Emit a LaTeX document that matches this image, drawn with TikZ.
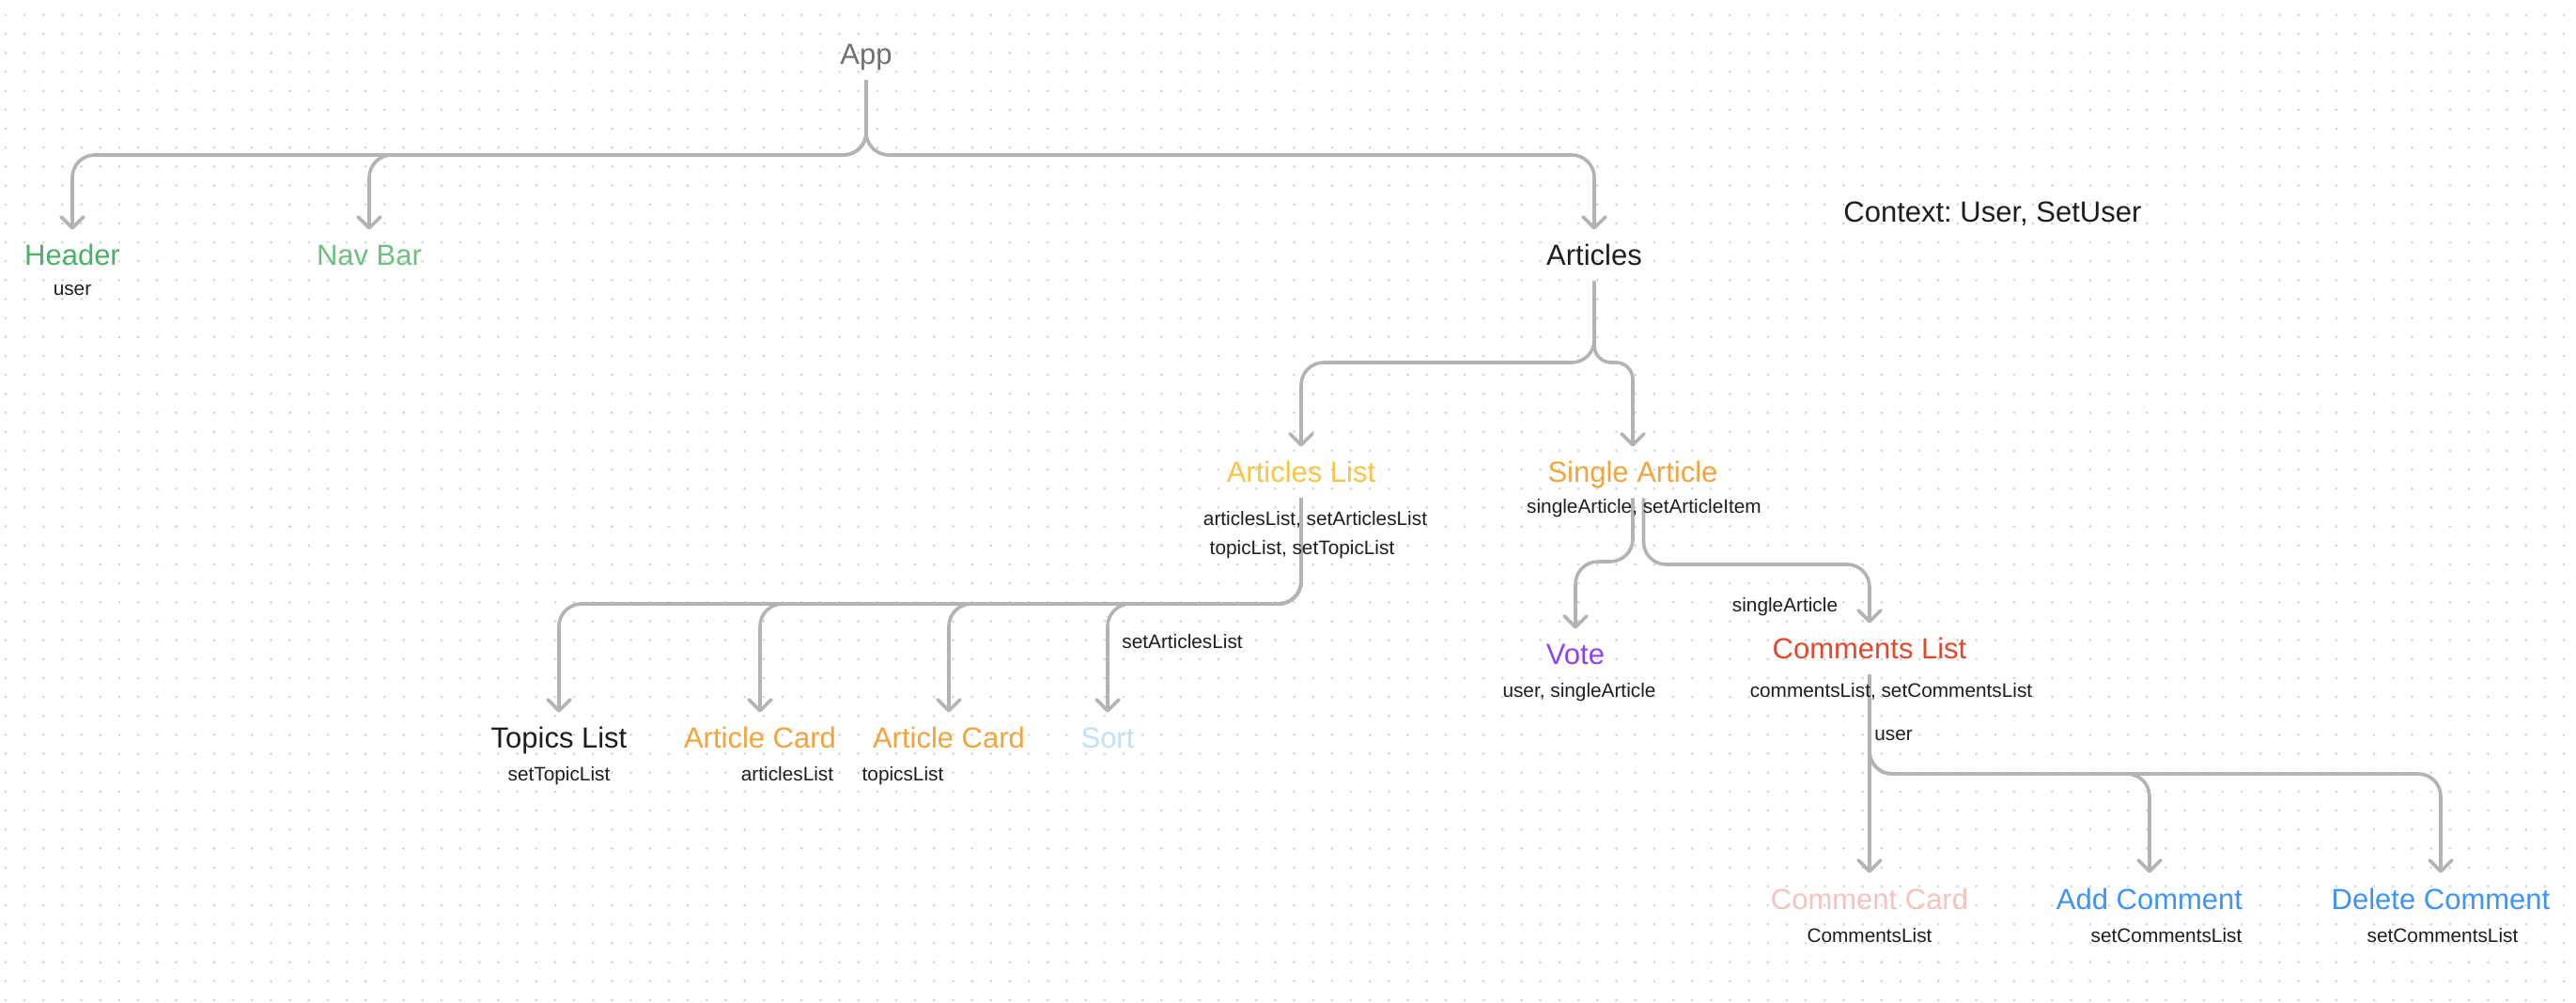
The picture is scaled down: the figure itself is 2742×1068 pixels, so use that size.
\documentclass[tikz,border=0pt]{standalone}
\usepackage{fontspec}
\setmainfont{Liberation Sans}
\usetikzlibrary{arrows.meta}
\frenchspacing
\definecolor{linegrey}{HTML}{B3B3B3}
\definecolor{dotgrey}{HTML}{CFCFCF}
\definecolor{appgrey}{HTML}{707070}
\definecolor{inkblack}{HTML}{1E1E1E}
\definecolor{hdrgreen}{HTML}{4DAF68}
\definecolor{navgreen}{HTML}{6DC080}
\definecolor{alyellow}{HTML}{F7C544}
\definecolor{saorange}{HTML}{F2A43C}
\definecolor{sortblue}{HTML}{BFE0FC}
\definecolor{votepurple}{HTML}{8D42F5}
\definecolor{clred}{HTML}{E5472B}
\definecolor{ccpink}{HTML}{F5C3BE}
\definecolor{cmblue}{HTML}{3E93F5}
\tikzset{
  big/.style={font=\fontsize{15.5}{18}\selectfont, inner xsep=0pt, inner ysep=8pt,
    text height=11pt, text depth=0pt, anchor=base},
  small/.style={font=\fontsize{10.4}{12}\selectfont\frenchspacing, inner sep=0pt, anchor=base, text=inkblack},
  conn/.style={draw=linegrey, line width=1.8pt, rounded corners=12pt,
    -{Straight Barb[length=6pt,width=12pt,round]}},
  dotrow/.style={draw=dotgrey, line width=1.4pt, line cap=round, dash pattern=on 0pt off 10.085pt}
}
\begin{document}
\begin{tikzpicture}[x=0.5pt,y=-0.5pt]
\useasboundingbox[fill=white] (0,0) rectangle (2742,1068);
\foreach \j in {0,...,52}{
  \draw[dotrow] (6,{16+20.17*\j}) -- (2742,{16+20.17*\j});
}
% main nodes
\node[big, text=appgrey]    (app)      at (922,69)   {App};
\node[big, text=hdrgreen]   (header)   at (77,283)   {Header};
\node[big, text=navgreen]   (navbar)   at (393,283)  {Nav Bar};
\node[big, text=inkblack]   (articles) at (1697,283) {Articles};
\node[big, text=inkblack, anchor=base west] (context) at (1962,237) {\frenchspacing Context: User, SetUser};
\node[big, text=alyellow]   (artlist)  at (1385,514) {Articles List};
\node[big, text=saorange]   (single)   at (1738,514) {Single Article};
\node[big, text=inkblack]   (topics)   at (595,797)  {Topics List};
\node[big, text=saorange]   (card1)    at (809,797)  {Article Card};
\node[big, text=saorange]   (card2)    at (1010,797) {Article Card};
\node[big, text=sortblue]   (sort)     at (1179,797) {Sort};
\node[big, text=votepurple] (vote)     at (1677,708) {Vote};
\node[big, text=clred]      (comlist)  at (1990,702) {Comments List};
\node[big, text=ccpink]     (comcard)  at (1990,968) {Comment Card};
\node[big, text=cmblue]     (addcom)   at (2288,968) {Add Comment};
\node[big, text=cmblue]     (delcom)   at (2598,968) {Delete Comment};
% split points
\coordinate (appsplit) at (922,165);
\coordinate (artsplit) at (1697,386);
\coordinate (alsplit)  at (1385,643);
\coordinate (saleft)   at (1738,598);
\coordinate (saright)  at (1749.5,601);
\coordinate (clsplit)  at (1990,824);
% connectors
\draw[conn] (app.south) -- (appsplit) -| (header.north);
\draw[conn] (app.south) -- (appsplit) -| (navbar.north);
\draw[conn] (app.south) -- (appsplit) -| (articles.north);
\draw[conn] (articles.south) -- (artsplit) -| (artlist.north);
\draw[conn, rounded corners=9pt] (articles.south) -- (artsplit) -| (single.north);
\draw[conn] (artlist.south) -- (alsplit) -| (topics.north);
\draw[conn] (artlist.south) -- (alsplit) -| (card1.north);
\draw[conn] (artlist.south) -- (alsplit) -| (card2.north);
\draw[conn] (artlist.south) -- (alsplit) -| (sort.north);
\draw[conn] (single.south) -- (saleft) -| (vote.north);
\draw[conn] ([xshift=5.75pt]single.south) -- (saright) -| (comlist.north);
\draw[conn] (comlist.south) -- (comcard.north);
\draw[conn] (comlist.south) -- (clsplit) -| (addcom.north);
\draw[conn] (comlist.south) -- (clsplit) -| (delcom.north);
% small labels
\node[small] (hdruser)  at (77,315)   {user};
\node[small] (alprops1) at (1400,560) {articlesList, setArticlesList};
\node[small] (alprops2) at (1386,591) {topicList, setTopicList};
\node[small] (saprops)  at (1750,547) {singleArticle, setArticleItem};
\node[small] (tlprops)  at (595,832)  {setTopicList};
\node[small] (c1props)  at (838,832)  {articlesList};
\node[small] (c2props)  at (961,832)  {topicsList};
\node[small, anchor=base west] (sortlbl) at (1194,691) {setArticlesList};
\node[small] (voteprops) at (1681,743) {user, singleArticle};
\node[small] (clin)      at (1900,652) {singleArticle};
\node[small] (clprops)   at (2013,743) {commentsList, setCommentsList};
\node[small, anchor=base west] (cluser) at (1995,789) {user};
\node[small] (ccprops)   at (1990,1003) {CommentsList};
\node[small] (acprops)   at (2306,1003) {setCommentsList};
\node[small] (dcprops)   at (2600,1003) {setCommentsList};
\end{tikzpicture}
\end{document}
